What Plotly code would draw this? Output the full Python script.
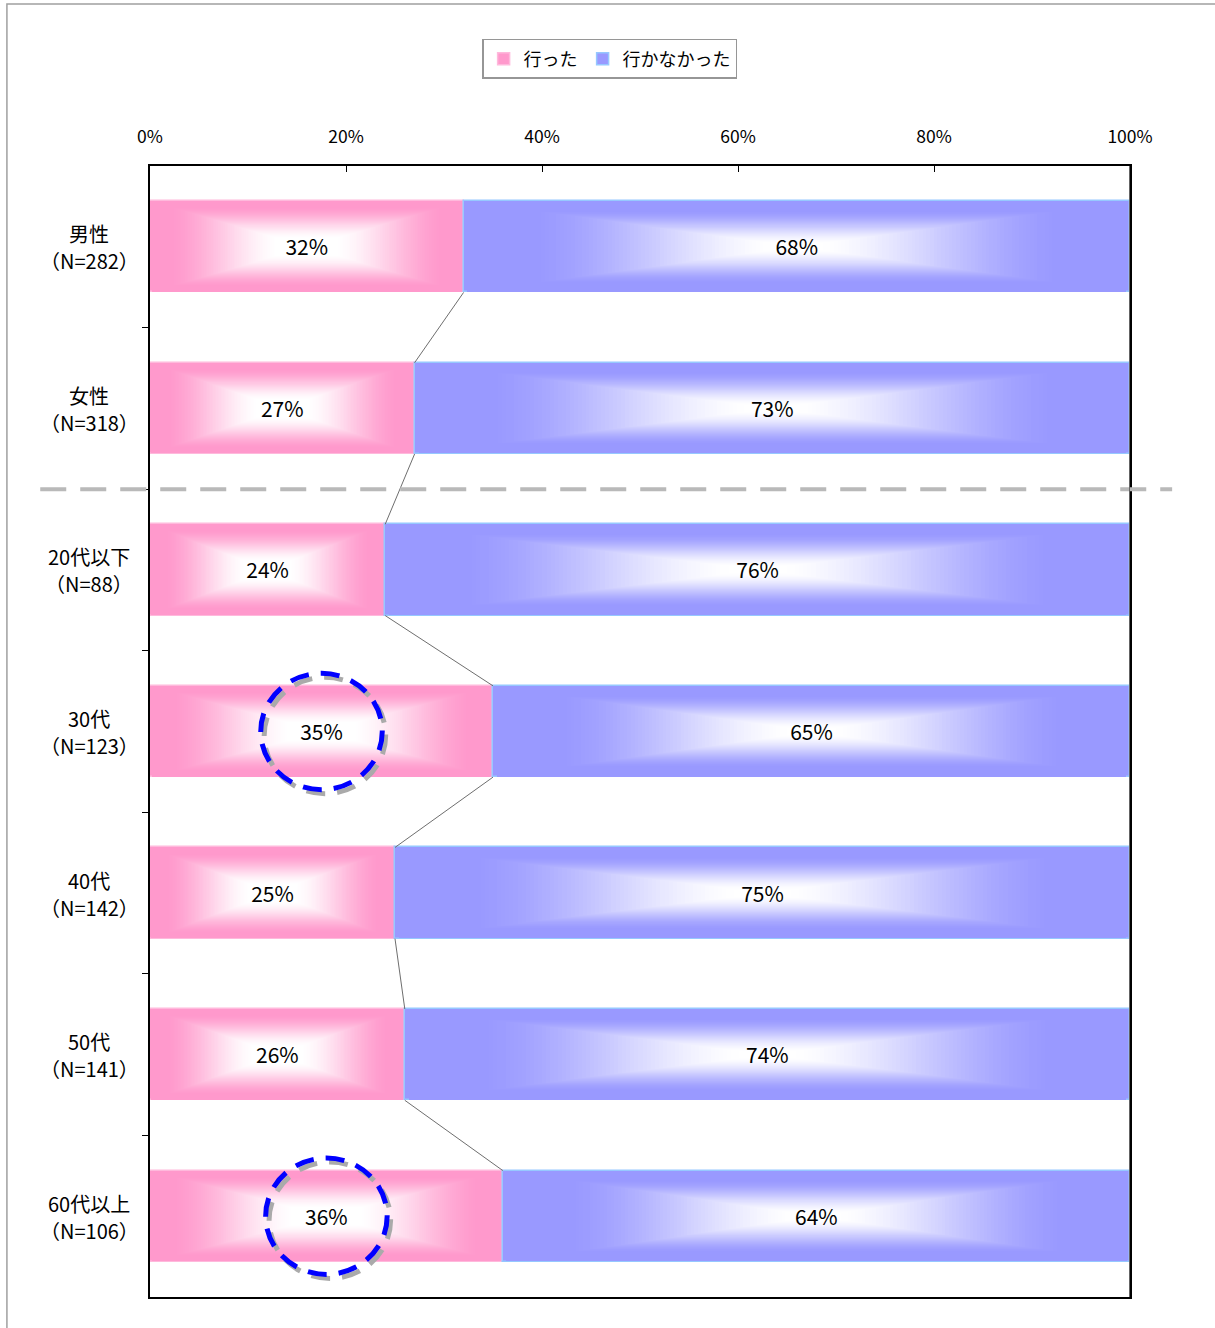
import plotly.graph_objects as go

# ---- data ----
categories = ["男性", "女性", "20代以下", "30代", "40代", "50代", "60代以上"]
sample_sizes = [282, 318, 88, 123, 142, 141, 106]
went = [32, 27, 24, 35, 25, 26, 36]
did_not_go = [68, 73, 76, 65, 75, 74, 64]
series_names = ["行った", "行かなかった"]
x_ticks = [0, 20, 40, 60, 80, 100]
highlighted = ["30代", "60代以上"]

FONT = "Noto Sans CJK JP, Noto Sans, sans-serif"
PINK = (255, 153, 204)
BLUE = (153, 153, 255)
BAR_W = 0.565
N_LAYERS = 90

ypos = list(range(len(categories)))
fig = go.Figure()


def blend(rgb, t):
    return "rgb(%d,%d,%d)" % tuple(round(c + (255 - c) * t) for c in rgb)


def ramp(f, a, b):
    t = min(1.0, max(0.0, (f - a) / (b - a)))
    return t * t * (3 - 2 * t) * 0.6 + t * 0.4


def add_gradient_bars(starts, lengths, rgb, edge, name, a, b):
    # nested rectangles shrinking toward the centre give a rectangular
    # "from centre" gradient from the edge colour to white
    for k in range(N_LAYERS):
        f = k / N_LAYERS
        fig.add_trace(go.Bar(
            orientation="h",
            y=ypos,
            base=[s + l * f / 2 for s, l in zip(starts, lengths)],
            x=[l * (1 - f) for l in lengths],
            width=BAR_W * (1 - f),
            marker=dict(color=blend(rgb, ramp(f, a, b)),
                        line=dict(width=1.5 if k == 0 else 0, color=edge)),
            name=name, legendgroup=name, showlegend=(k == 0),
            hoverinfo="skip",
        ))


add_gradient_bars([0] * len(went), went, PINK, "rgb(255,185,220)", series_names[0], 0.14, 0.8)
add_gradient_bars(went, did_not_go, BLUE, "rgb(150,200,255)", series_names[1], 0.22, 0.92)

# series lines joining the boundary between the two segments
cx, cy = [], []
for i in range(len(went) - 1):
    cx += [went[i], went[i + 1], None]
    cy += [i + BAR_W / 2, i + 1 - BAR_W / 2, None]
fig.add_trace(go.Scatter(x=cx, y=cy, mode="lines",
                         line=dict(color="rgb(110,110,110)", width=1),
                         showlegend=False, hoverinfo="skip"))

# value labels
fig.add_trace(go.Scatter(
    x=[w / 2 for w in went] + [w + d / 2 for w, d in zip(went, did_not_go)],
    y=[y + 0.02 for y in ypos + ypos],
    text=[f"{v}%" for v in went + did_not_go],
    mode="text", textposition="middle center",
    textfont=dict(family=FONT, size=21, color="black"),
    showlegend=False, hoverinfo="skip"))

# category labels: name on top, sample size below, both centred
for i, (c, n) in enumerate(zip(categories, sample_sizes)):
    for txt, shift in [(c, 13), (f"（N={n}）", -14)]:
        fig.add_annotation(x=-0.062, xref="paper", y=i, yref="y", yshift=shift,
                           text=txt, showarrow=False,
                           xanchor="center", yanchor="middle",
                           font=dict(family=FONT, size=20, color="black"))

shapes = []
# dashed separator between gender and age groups
shapes.append(dict(type="line", xref="paper", yref="y", x0=-0.112, x1=1.043,
                   y0=1.5, y1=1.5, line=dict(color="rgb(185,185,185)", width=4, dash="26px,14px"),
                   layer="above"))
# dashed ellipses around highlighted values (with grey drop shadow)
for c in highlighted:
    i = categories.index(c)
    xc = went[i] / 2
    for dx, dy, col in [(0.35, 0.025, "rgb(170,170,170)"), (0, 0, "rgb(0,0,255)")]:
        shapes.append(dict(type="circle", xref="x", yref="y",
                           x0=xc - 6.2 + dx, x1=xc + 6.2 + dx,
                           y0=i - 0.36 + dy, y1=i + 0.36 + dy,
                           line=dict(color=col, width=5, dash="19px,12px"),
                           layer="above"))
# outer chart frame
shapes.append(dict(type="rect", xref="paper", yref="paper", x0=-0.146, x1=1.2,
                   y0=-0.2, y1=1.1432, line=dict(color="rgb(160,160,160)", width=1.5),
                   layer="below"))
# right edge of the plot frame in dark grey
shapes.append(dict(type="line", xref="x", yref="paper", x0=100, x1=100, y0=0, y1=1,
                   line=dict(color="rgb(100,100,100)", width=2), layer="above"))

fig.update_layout(
    width=1215, height=1328, autosize=False,
    margin=dict(l=150, r=85, t=166, b=31),
    paper_bgcolor="white", plot_bgcolor="white",
    barmode="overlay", bargap=0,
    shapes=shapes,
    font=dict(family=FONT, color="black"),
    legend=dict(orientation="h", x=0.469, xanchor="center", y=1.1123, yanchor="top",
                bordercolor="rgb(150,150,150)", borderwidth=1.5,
                font=dict(family=FONT, size=18), itemwidth=30,
                bgcolor="white", traceorder="normal"),
    xaxis=dict(range=[0, 100], side="top", tickvals=x_ticks,
               ticktext=[f"{t}%" for t in x_ticks],
               ticks="inside", ticklen=6, tickcolor="black",
               showline=True, linecolor="black", linewidth=2, mirror=True,
               showgrid=False, zeroline=False, ticklabelstandoff=14,
               tickfont=dict(family=FONT, size=17.5)),
    yaxis=dict(range=[len(categories) - 0.5, -0.5],
               tickvals=[i + 0.5 for i in range(len(categories) - 1)],
               ticktext=[""] * (len(categories) - 1),
               ticks="outside", ticklen=6, tickcolor="black",
               showline=True, linecolor="black", linewidth=2, mirror=True,
               showgrid=False, zeroline=False),
)

fig.write_html("out.html")
